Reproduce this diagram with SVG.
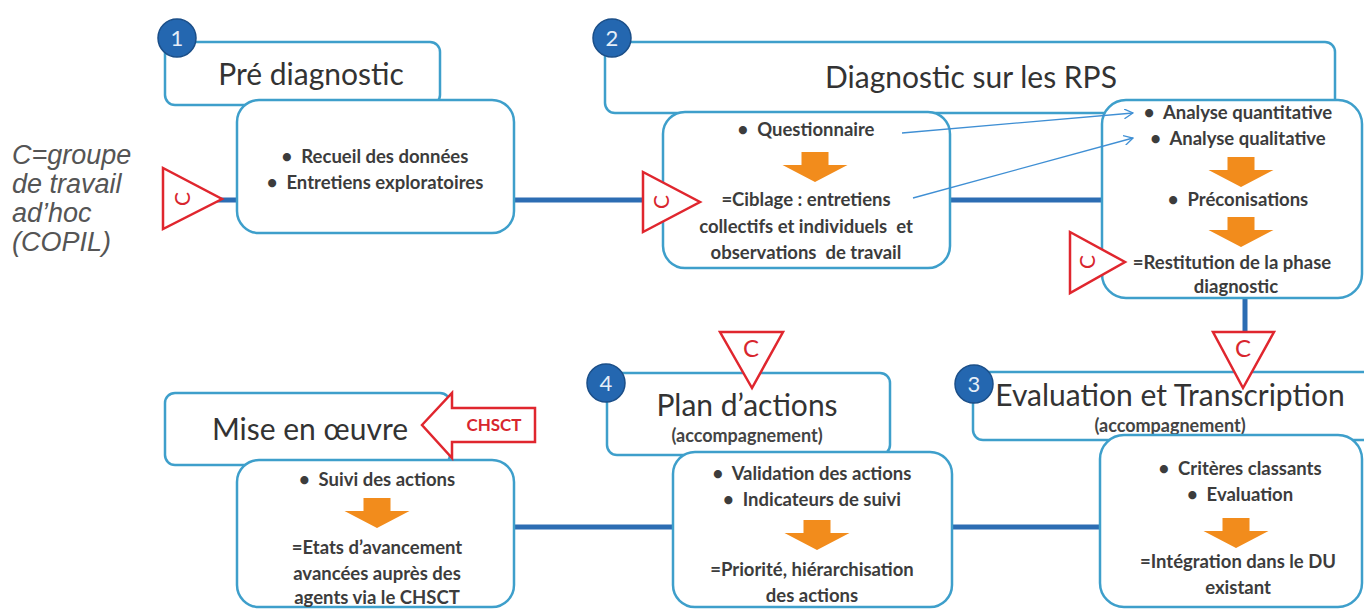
<svg xmlns="http://www.w3.org/2000/svg" width="1364" height="612" viewBox="0 0 1364 612" xml:space="preserve">
<defs>
<style>
.hdr{fill:#fff;stroke:#3e9fcb;stroke-width:2.5}
.box{fill:#fff;stroke:#3e9fcb;stroke-width:2.5}
.conn{stroke:#2c6db3;stroke-width:5;fill:none}
.thin{stroke:#3f8fd4;stroke-width:1.3;fill:none}
.tri{fill:#fff;stroke:#e0262e;stroke-width:2.5;stroke-linejoin:miter}
.ctxt{font-family:Lato,"Liberation Sans",sans-serif;font-size:21px;fill:#d8262e}
.num{fill:#2467b0;stroke:#1a4e88;stroke-width:1.5}
.numt{font-family:Lato,"Liberation Sans",sans-serif;font-size:22px;fill:#e6eef8;text-anchor:middle}
.ht{font-family:Lato,"Liberation Sans",sans-serif;font-size:30px;fill:#333;text-anchor:middle}
.sub{font-family:Lato,"Liberation Sans",sans-serif;font-size:18px;font-weight:700;fill:#444;text-anchor:middle}
.t{font-family:Lato,"Liberation Sans",sans-serif;font-size:18.5px;font-weight:700;fill:#3c3c3c;text-anchor:middle;white-space:pre}
.or{fill:#f28c1c}
.side{font-family:"Liberation Sans",Arial,sans-serif;font-style:italic;font-size:27px;fill:#555}
</style>
<marker id="open" viewBox="0 0 10 10" refX="9" refY="5" markerWidth="10" markerHeight="10" markerUnits="userSpaceOnUse" orient="auto">
<path d="M0,0 L9,5 L0,10" fill="none" stroke="#3f8fd4" stroke-width="1.3"/>
</marker>
<path id="oarrow" d="M-13.5,0 h27 v13 h19 L0,30 L-32.5,13 h19 z"/>
</defs>
<rect width="1364" height="612" fill="#fff"/>

<g id="side-legend">
<text class="side" x="12" y="164">C=groupe</text>
<text class="side" x="12" y="193">de travail</text>
<text class="side" x="12" y="222">ad’hoc</text>
<text class="side" x="12" y="251">(COPIL)</text>
</g>

<g id="connectors">
<line class="conn" x1="215" y1="200" x2="1102" y2="200"/>
<line class="conn" x1="1245" y1="296" x2="1245" y2="334"/>
<line class="conn" x1="505" y1="527" x2="1102" y2="527"/>
</g>

<g id="node1">
<rect class="hdr" x="165" y="42" width="275" height="63" rx="10"/>
<text class="ht" x="311" y="85">Pré diagnostic</text>
<rect class="box" x="237" y="100" width="277" height="133" rx="22"/>
<text class="t" x="375" y="163">•  Recueil des données</text>
<text class="t" x="375" y="189">•  Entretiens exploratoires</text>
<circle class="num" cx="177" cy="38" r="19"/>
<text class="numt" x="177" y="46">1</text>
</g>

<g id="node2">
<rect class="hdr" x="605" y="42" width="730" height="71" rx="10"/>
<text class="ht" x="971" y="88">Diagnostic sur les RPS</text>
<rect class="box" x="663" y="112" width="287" height="156" rx="22"/>
<text class="t" x="806" y="136">•  Questionnaire</text>
<use href="#oarrow" class="or" x="815" y="152"/>
<text class="t" x="806" y="206">=Ciblage : entretiens</text>
<text class="t" x="806" y="233">collectifs et individuels  et</text>
<text class="t" x="806" y="259">observations  de travail</text>
<rect class="box" x="1102" y="100" width="260" height="198" rx="24"/>
<text class="t" x="1238" y="119">•  Analyse quantitative</text>
<text class="t" x="1238" y="145">•  Analyse qualitative</text>
<use href="#oarrow" class="or" x="1241" y="157"/>
<text class="t" x="1238" y="206">•  Préconisations</text>
<use href="#oarrow" class="or" x="1241" y="217"/>
<text class="t" x="1232" y="269">=Restitution de la phase</text>
<text class="t" x="1236" y="293">diagnostic</text>
<circle class="num" cx="612" cy="38" r="19"/>
<text class="numt" x="612" y="46">2</text>
</g>

<g id="node3">
<rect class="hdr" x="973" y="372" width="420" height="68" rx="10"/>
<text class="ht" x="1170" y="406">Evaluation et Transcription</text>
<text class="sub" x="1170" y="432">(accompagnement)</text>
<rect class="box" x="1100" y="435" width="262" height="172" rx="24"/>
<text class="t" x="1240" y="475">•  Critères classants</text>
<text class="t" x="1240" y="501">•  Evaluation</text>
<use href="#oarrow" class="or" x="1236" y="518"/>
<text class="t" x="1238" y="568">=Intégration dans le DU</text>
<text class="t" x="1238" y="594">existant</text>
<circle class="num" cx="974" cy="384" r="19"/>
<text class="numt" x="974" y="392">3</text>
</g>

<g id="node4">
<rect class="hdr" x="607" y="373" width="283" height="82" rx="10"/>
<text class="ht" x="747" y="416">Plan d’actions</text>
<text class="sub" x="747" y="442">(accompagnement)</text>
<rect class="box" x="673" y="452" width="279" height="155" rx="22"/>
<text class="t" x="812" y="480">•  Validation des actions</text>
<text class="t" x="812" y="506">•  Indicateurs de suivi</text>
<use href="#oarrow" class="or" x="817" y="520"/>
<text class="t" x="812" y="576">=Priorité, hiérarchisation</text>
<text class="t" x="812" y="602">des actions</text>
<circle class="num" cx="606" cy="383" r="19"/>
<text class="numt" x="606" y="391">4</text>
</g>

<g id="node5">
<rect class="hdr" x="165" y="393" width="285" height="72" rx="10"/>
<text class="ht" x="310" y="440">Mise en œuvre</text>
<rect class="box" x="237" y="460" width="277" height="147" rx="22"/>
<text class="t" x="377" y="486">•  Suivi des actions</text>
<use href="#oarrow" class="or" x="377" y="498"/>
<text class="t" x="377" y="554">=Etats d’avancement</text>
<text class="t" x="377" y="580">avancées auprès des</text>
<text class="t" x="377" y="604">agents via le CHSCT</text>
</g>

<g id="chsct">
<polygon class="tri" points="422,425 452,393 452,408 535,408 535,442 452,442 452,458"/>
<text x="494" y="431" style="font-family:Lato,'Liberation Sans',sans-serif;font-size:17px;font-weight:700;fill:#d8262e;text-anchor:middle">CHSCT</text>
</g>

<g id="copil-markers">
<polygon class="tri" points="163,168 163,229 222,199"/>
<text class="ctxt" text-anchor="middle" dominant-baseline="central" transform="translate(181,199) rotate(-90)">C</text>
<polygon class="tri" points="643,172 643,232 700,202"/>
<text class="ctxt" text-anchor="middle" dominant-baseline="central" transform="translate(660,202) rotate(-90)">C</text>
<polygon class="tri" points="1070,232 1070,293 1125,262"/>
<text class="ctxt" text-anchor="middle" dominant-baseline="central" transform="translate(1086,262) rotate(-90)">C</text>
<polygon class="tri" points="720,332 783,332 752,388"/>
<text class="ctxt" x="751" y="357" text-anchor="middle" style="font-size:24px">C</text>
<polygon class="tri" points="1213,332 1274,332 1243,388"/>
<text class="ctxt" x="1243" y="357" text-anchor="middle" style="font-size:24px">C</text>
</g>

<g id="thin-links">
<line class="thin" x1="902" y1="133" x2="1133" y2="113" marker-end="url(#open)"/>
<line class="thin" x1="913" y1="198" x2="1133" y2="138" marker-end="url(#open)"/>
</g>
</svg>
